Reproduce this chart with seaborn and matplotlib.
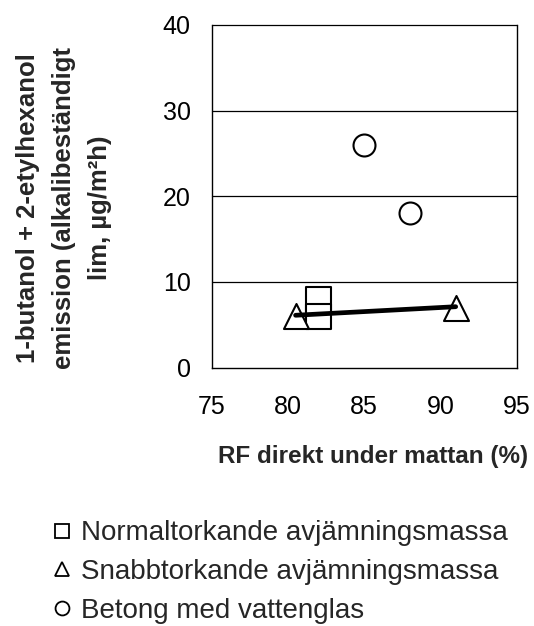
import matplotlib
matplotlib.use("Agg")
import matplotlib.pyplot as plt
from matplotlib.lines import Line2D
import seaborn as sns
import pandas as pd

# ---- data ----
series_names = ["Normaltorkande avjämningsmassa",
                "Snabbtorkande avjämningsmassa",
                "Betong med vattenglas"]
normal_x = [82, 82]
normal_y = [8, 6]
snabb_x = [80.5, 91]
snabb_y = [6, 7]
betong_x = [85, 88]
betong_y = [26, 18]
trend_x = [80.5, 91]
trend_y = [6.1, 7.1]
x_ticks = [75, 80, 85, 90, 95]
y_ticks = [0, 10, 20, 30, 40]
x_label = "RF direkt under mattan (%)"
y_label = "1-butanol + 2-etylhexanol\nemission (alkalibeständigt\nlim, µg/m²h)"

sns.set_theme(style="white")
plt.rcParams["font.family"] = ["Liberation Sans", "DejaVu Sans"]

W, H = 534, 626
fig = plt.figure(figsize=(W / 100, H / 100), dpi=100)
ax = fig.add_axes([211.7 / W, 1 - 367.5 / H, (516.7 - 211.7) / W, (367.5 - 25) / H])

df_n = pd.DataFrame({"x": normal_x, "y": normal_y})
df_s = pd.DataFrame({"x": snabb_x, "y": snabb_y})
df_b = pd.DataFrame({"x": betong_x, "y": betong_y})
df_t = pd.DataFrame({"x": trend_x, "y": trend_y})

for y in y_ticks[1:]:
    ax.axhline(y, color="black", lw=0.9, zorder=1, clip_on=False)

sns.scatterplot(data=df_n, x="x", y="y", ax=ax, marker="s", s=324,
                facecolor="white", edgecolor="black", linewidth=1.5, zorder=3, clip_on=False)
sns.scatterplot(data=df_s, x="x", y="y", ax=ax, marker="^", s=324,
                facecolor="white", edgecolor="black", linewidth=1.5, zorder=3, clip_on=False)
sns.scatterplot(data=df_b, x="x", y="y", ax=ax, marker="o", s=250,
                facecolor="white", edgecolor="black", linewidth=1.5, zorder=3, clip_on=False)
sns.lineplot(data=df_t, x="x", y="y", ax=ax, color="black", lw=3.4, zorder=4)

ax.set_xlim(75, 95)
ax.set_ylim(0, 40)
ax.set_xticks(x_ticks)
ax.set_yticks(y_ticks)
ax.set_xlabel("")
ax.set_ylabel("")
ax.tick_params(axis="both", direction="inout", length=12, width=1, color="black",
               labelsize=18, labelcolor="black")
ax.tick_params(axis="x", pad=14)
ax.tick_params(axis="y", pad=9)
for side in ["left", "bottom", "right"]:
    ax.spines[side].set_visible(True)
    ax.spines[side].set_color("black")
    ax.spines[side].set_linewidth(1)
ax.spines["top"].set_visible(False)
ax.set_facecolor("white")
ax.grid(False)

fig.text(373 / W, 1 - 457 / H, x_label, ha="center", va="center",
         fontsize=17.5, fontweight="bold")
fig.text(64 / W, 1 - 208 / H, y_label, ha="center", va="center", rotation=90,
         fontsize=18.5, fontweight="bold", linespacing=1.65, multialignment="center")

handles = [
    Line2D([], [], ls="none", marker="s", markersize=10, markerfacecolor="white",
           markeredgecolor="black", markeredgewidth=1.3),
    Line2D([], [], ls="none", marker="^", markersize=10, markerfacecolor="white",
           markeredgecolor="black", markeredgewidth=1.3),
    Line2D([], [], ls="none", marker="o", markersize=10, markerfacecolor="white",
           markeredgecolor="black", markeredgewidth=1.3),
]
fig.legend(handles, series_names, loc="center left",
           bbox_to_anchor=(55 / W, 1 - 572 / H), frameon=False, fontsize=20,
           handlelength=0.5, handletextpad=0.45, labelspacing=0.45,
           borderpad=0, borderaxespad=0)

fig.savefig("out.png", dpi=100, facecolor="white")
